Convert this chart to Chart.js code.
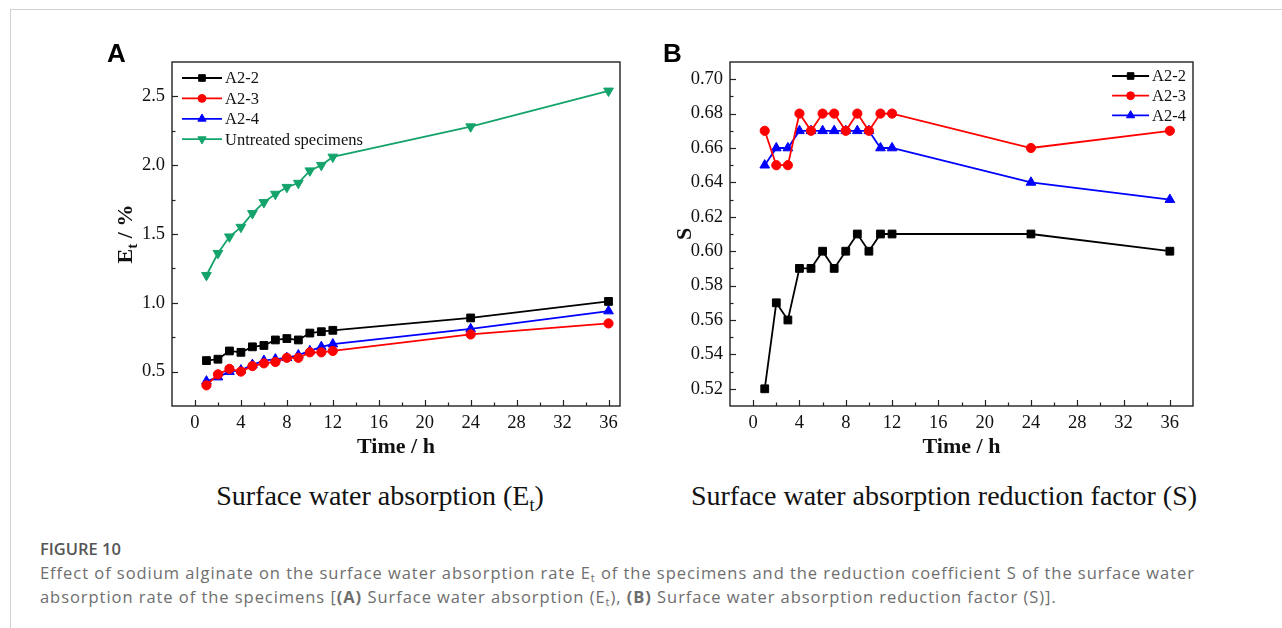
<!DOCTYPE html>
<html>
<head>
<meta charset="utf-8">
<script src="https://cdn.jsdelivr.net/npm/chart.js@4.4.1/dist/chart.umd.min.js"></script>
<style>
  html, body { margin:0; padding:0; background:#fff; width:1282px; height:628px; overflow:hidden; }
  body { position:relative; }
  .frame { position:absolute; left:10px; top:9px; width:1300px; height:700px; border-top:1px solid #d2d2d2; border-left:1px solid #d2d2d2; }
  .panel { position:absolute; font-family:"Liberation Sans", Arial, sans-serif; font-weight:bold; font-size:26px; line-height:26px; color:#000; }
  .cv { position:absolute; }
  .ytitle { position:absolute; font-family:"Liberation Serif", "Times New Roman", serif; font-weight:bold; font-size:22px; line-height:26px; color:#111; white-space:nowrap; transform:translate(-50%,-50%) rotate(-90deg); }
  .ytitle sub { font-size:15px; vertical-align:-5px; line-height:0; }
  .sub { position:absolute; font-family:"Liberation Serif", "Times New Roman", serif; font-size:28px; line-height:32px; color:#111; white-space:nowrap; text-align:center; }
  .sub sub { font-size:18px; vertical-align:-6px; line-height:0; }
  .figlabel { position:absolute; left:40px; top:537px; font-family:"Open Sans", sans-serif; font-size:16.5px; line-height:24px; color:#555; font-weight:600; }
  .figcap { position:absolute; left:40px; top:561px; width:1230px; font-family:"Open Sans", sans-serif; font-size:16.5px; letter-spacing:0.95px; line-height:24px; color:#6e6e6e; white-space:nowrap; }
  .figcap sub { font-size:11px; vertical-align:-3px; line-height:0; }
</style>
</head>
<body>
<div class="frame"></div>
<canvas id="chartA" class="cv" style="left:100px;top:40px;width:530px;height:430px;" width="530" height="430"></canvas>
<canvas id="chartB" class="cv" style="left:660px;top:40px;width:543px;height:430px;" width="543" height="430"></canvas>
<div class="panel" style="left:107px;top:40px;">A</div>
<div class="panel" style="left:663px;top:40px;">B</div>
<div class="ytitle" style="left:125px;top:234px;">E<sub>t</sub> / %</div>
<div class="sub" style="left:180px;top:480px;width:400px;">Surface water absorption (E<sub>t</sub>)</div>
<div class="sub" style="left:684px;top:480px;width:520px;">Surface water absorption reduction factor (S)</div>
<div class="figlabel">FIGURE 10</div>
<div class="figcap">Effect of sodium alginate on the surface water absorption rate E<sub>t</sub> of the specimens and the reduction coefficient S of the surface water<br>absorption rate of the specimens [<b>(A)</b> Surface water absorption (E<sub>t</sub>), <b>(B)</b> Surface water absorption reduction factor (S)].</div>

<script>
// ---------------- data ----------------
const hours = [1, 2, 3, 4, 5, 6, 7, 8, 9, 10, 11, 12, 24, 36];

// Panel A: surface water absorption Et (%)
const etA22 = [0.58, 0.59, 0.65, 0.64, 0.68, 0.69, 0.73, 0.74, 0.73, 0.78, 0.79, 0.80, 0.89, 1.01];
const etA23 = [0.40, 0.48, 0.52, 0.50, 0.54, 0.56, 0.57, 0.60, 0.60, 0.64, 0.64, 0.65, 0.77, 0.85];
const etA24 = [0.43, 0.46, 0.50, 0.51, 0.55, 0.58, 0.59, 0.60, 0.62, 0.65, 0.68, 0.70, 0.81, 0.94];
const etUntreated = [1.20, 1.36, 1.48, 1.55, 1.65, 1.73, 1.79, 1.84, 1.87, 1.96, 2.00, 2.06, 2.28, 2.54];

// Panel B: reduction factor S
const sA22 = [0.52, 0.57, 0.56, 0.59, 0.59, 0.60, 0.59, 0.60, 0.61, 0.60, 0.61, 0.61, 0.61, 0.60];
const sA23 = [0.67, 0.65, 0.65, 0.68, 0.67, 0.68, 0.68, 0.67, 0.68, 0.67, 0.68, 0.68, 0.66, 0.67];
const sA24 = [0.65, 0.66, 0.66, 0.67, 0.67, 0.67, 0.67, 0.67, 0.67, 0.67, 0.66, 0.66, 0.64, 0.63];

// tick labels
const xTickValues = [0, 4, 8, 12, 16, 20, 24, 28, 32, 36];
const etTickValues = [0.5, 1.0, 1.5, 2.0, 2.5];
const sTickValues = [0.52, 0.54, 0.56, 0.58, 0.60, 0.62, 0.64, 0.66, 0.68, 0.70];

const seriesNames = ['A2-2', 'A2-3', 'A2-4', 'Untreated specimens'];

// ---------------- helpers ----------------
const pts = (vals) => hours.map((h, i) => ({ x: h, y: vals[i] }));
const SERIF = '"Liberation Serif", "Times New Roman", serif';

const styles = [
  { color: '#000000', pointStyle: 'rect', radius: 5.5, rotation: 0 },
  { color: '#ff0000', pointStyle: 'circle', radius: 4.6, rotation: 0 },
  { color: '#0000ff', pointStyle: 'triangle', radius: 5.6, rotation: 0 },
  { color: '#14a36b', pointStyle: 'triangle', radius: 5.6, rotation: 180 }
];

function makeDataset(i, vals) {
  const s = styles[i];
  return {
    label: seriesNames[i],
    data: pts(vals),
    borderColor: s.color,
    backgroundColor: s.color,
    pointBackgroundColor: s.color,
    pointBorderColor: s.color,
    pointBorderWidth: 1,
    borderWidth: 1.8,
    pointStyle: s.pointStyle,
    pointRotation: s.rotation,
    pointRadius: s.radius,
    tension: 0
  };
}

function minorBetween(majors, min, max) {
  const out = [];
  const step = majors[1] - majors[0];
  const list = [majors[0] - step / 2];
  for (let i = 0; i < majors.length; i++) list.push(majors[i] + step / 2);
  list.forEach(v => { if (v > min + 1e-9 && v < max - 1e-9) out.push(v); });
  return out;
}

// frame + inward ticks
const frameTicks = {
  id: 'frameTicks',
  afterDraw(chart, args, o) {
    const { ctx, chartArea: a, scales } = chart;
    ctx.save();
    ctx.strokeStyle = '#222';
    ctx.lineWidth = 1.4;
    ctx.strokeRect(a.left, a.top, a.right - a.left, a.bottom - a.top);
    ctx.lineWidth = 1.2;
    const xs = scales.x, ys = scales.y;
    const seg = (x1, y1, x2, y2) => { ctx.beginPath(); ctx.moveTo(x1, y1); ctx.lineTo(x2, y2); ctx.stroke(); };
    o.xMajor.forEach(v => { const p = Math.round(xs.getPixelForValue(v)) + 0.5; seg(p, a.bottom, p, a.bottom - 6); });
    minorBetween(o.xMajor, xs.min, xs.max).forEach(v => { const p = Math.round(xs.getPixelForValue(v)) + 0.5; seg(p, a.bottom, p, a.bottom - 3.5); });
    o.yMajor.forEach(v => { const p = Math.round(ys.getPixelForValue(v)) + 0.5; seg(a.left, p, a.left + 6, p); });
    minorBetween(o.yMajor, ys.min, ys.max).forEach(v => { const p = Math.round(ys.getPixelForValue(v)) + 0.5; seg(a.left, p, a.left + 3.5, p); });
    ctx.restore();
  }
};

// legend with line + marker, drawn inside the plot area
const lineLegend = {
  id: 'lineLegend',
  afterDraw(chart, args, o) {
    const { ctx, chartArea: a } = chart;
    ctx.save();
    ctx.font = o.size + 'px ' + SERIF;
    ctx.textBaseline = 'middle';
    ctx.textAlign = 'left';
    const dsets = chart.data.datasets;
    const maxW = Math.max(...dsets.map(d => ctx.measureText(d.label).width));
    dsets.forEach((d, i) => {
      const y = a.top + o.top + i * o.rowH;
      const x0 = o.align === 'right' ? a.right - o.right - maxW - o.gap - o.lineLen : a.left + o.left;
      ctx.strokeStyle = d.borderColor;
      ctx.lineWidth = d.borderWidth;
      ctx.beginPath(); ctx.moveTo(x0, y); ctx.lineTo(x0 + o.lineLen, y); ctx.stroke();
      ctx.fillStyle = d.pointBackgroundColor;
      ctx.strokeStyle = d.pointBorderColor;
      ctx.lineWidth = 1;
      Chart.helpers.drawPoint(ctx, { pointStyle: d.pointStyle, rotation: d.pointRotation || 0, radius: d.pointRadius * 0.85, borderWidth: 1 }, x0 + o.lineLen / 2, y);
      ctx.fillStyle = '#111';
      ctx.fillText(d.label, x0 + o.lineLen + o.gap, y + 1);
    });
    ctx.restore();
  }
};

function buildOptions(cfg) {
  return {
    responsive: false,
    animation: false,
    devicePixelRatio: 1,
    layout: { padding: { top: 22, right: 10, bottom: 0, left: 0 } },
    plugins: {
      legend: { display: false },
      tooltip: { enabled: false },
      frameTicks: { xMajor: xTickValues, yMajor: cfg.yTicks },
      lineLegend: cfg.legend
    },
    scales: {
      x: {
        type: 'linear', min: -2, max: cfg.xMax,
        afterBuildTicks: s => { s.ticks = xTickValues.map(v => ({ value: v })); },
        afterFit: s => { s.height = 64; },
        grid: { display: false, drawTicks: false },
        border: { display: false },
        ticks: { font: { family: SERIF, size: 18.5 }, color: '#111', padding: 6, autoSkip: false, maxRotation: 0, callback: v => String(v) },
        title: { display: true, text: 'Time / h', font: { family: SERIF, size: 22, weight: 'bold' }, color: '#111', padding: { top: 0, bottom: 9 } }
      },
      y: {
        type: 'linear', min: cfg.yMin, max: cfg.yMax,
        afterBuildTicks: s => { s.ticks = cfg.yTicks.map(v => ({ value: v })); },
        afterFit: s => { s.width = cfg.yWidth; },
        grid: { display: false, drawTicks: false },
        border: { display: false },
        ticks: { font: { family: SERIF, size: 18.5 }, color: '#111', padding: 7, autoSkip: false, callback: v => Number(v).toFixed(cfg.dec) },
        title: cfg.yTitle
      }
    }
  };
}

new Chart(document.getElementById('chartA'), {
  type: 'line',
  data: { datasets: [makeDataset(0, etA22), makeDataset(1, etA23), makeDataset(2, etA24), makeDataset(3, etUntreated)] },
  options: buildOptions({
    xMax: 37, yMin: 0.25, yMax: 2.75, yTicks: etTickValues, dec: 1, yWidth: 72,
    yTitle: { display: false },
    legend: { align: 'left', left: 10, top: 16, rowH: 20.4, lineLen: 40, gap: 3, size: 16.5 }
  }),
  plugins: [frameTicks, lineLegend]
});

new Chart(document.getElementById('chartB'), {
  type: 'line',
  data: { datasets: [makeDataset(0, sA22), makeDataset(1, sA23), makeDataset(2, sA24)] },
  options: buildOptions({
    xMax: 38, yMin: 0.51, yMax: 0.71, yTicks: sTickValues, dec: 2, yWidth: 70,
    yTitle: { display: true, text: 'S', font: { family: SERIF, size: 22, weight: 'bold' }, color: '#111', padding: { top: 12, bottom: 0 } },
    legend: { align: 'right', right: 7, top: 14, rowH: 19.7, lineLen: 37, gap: 3, size: 16.5 }
  }),
  plugins: [frameTicks, lineLegend]
});
</script>
</body>
</html>
